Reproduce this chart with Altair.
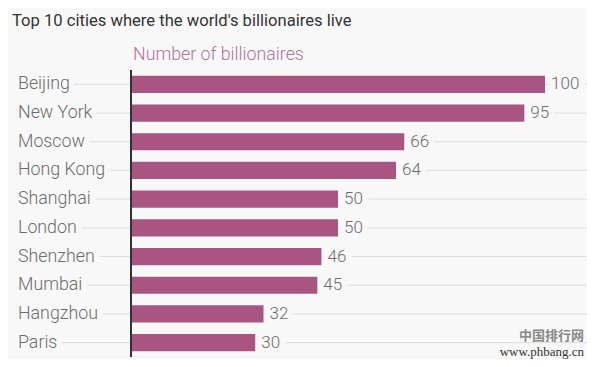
import altair as alt
import pandas as pd

cities = ["Beijing", "New York", "Moscow", "Hong Kong", "Shanghai",
          "London", "Shenzhen", "Mumbai", "Hangzhou", "Paris"]
counts = [100, 95, 66, 64, 50, 50, 46, 45, 32, 30]
title_text = ["Top 10 cities where the world's billionaires live"]
subtitle_text = ["Number of billionaires"]
watermark_cn = ["中国排行网"]
watermark_url = ["www.phbang.cn"]

BG = "#f8f8f8"
BAR = "#a85582"
TXT = "#6c6c6c"
FONT = "Roboto"
FW = 300
FS = 17
FSL = 17.8
W, H = 579, 287

df = pd.DataFrame({"city": cities, "count": counts, "zero": [0] * len(cities)})

XS = alt.Scale(domain=[-29.71, 110.14], nice=False, zero=False)
Y = alt.Y("city:N", sort=cities, axis=None,
          scale=alt.Scale(paddingInner=0.4, paddingOuter=0.2))
X = alt.X("count:Q", axis=None, scale=XS)

base = alt.Chart(df)

grid = base.mark_rule(color="#dddddd", strokeWidth=1).encode(
    y=Y, x=alt.value(10), x2=alt.value(W))

left_halo = base.mark_text(align="left", baseline="middle", font=FONT, fontSize=FSL, fontWeight=FW,
                           stroke=BG, strokeWidth=12, strokeJoin="round", color=BG).encode(
    y=Y, x=alt.value(10), text="city:N")
val_halo = base.mark_text(align="left", baseline="middle", font=FONT, fontSize=FS, fontWeight=FW, dx=6,
                          stroke=BG, strokeWidth=12, strokeJoin="round", color=BG).encode(
    y=Y, x=X, text="count:Q")

bars = base.mark_bar(color=BAR).encode(y=Y, x=X, x2="zero:Q")

zero = base.mark_rule(color="#333333", strokeWidth=1).encode(
    x=alt.X("zero:Q", axis=None, scale=XS), y=alt.value(0), y2=alt.value(H))

left_txt = base.mark_text(align="left", baseline="middle", font=FONT, fontSize=FSL, fontWeight=FW,
                          color=TXT).encode(y=Y, x=alt.value(10), text="city:N")
val_txt = base.mark_text(align="left", baseline="middle", font=FONT, fontSize=FS, fontWeight=FW, dx=6,
                         color=TXT).encode(y=Y, x=X, text="count:Q")

title = alt.Chart(pd.DataFrame({"t": title_text})).mark_text(
    align="left", baseline="alphabetic", font=FONT, fontSize=16.6, color="#333333").encode(
    x=alt.value(4), y=alt.value(-44), text="t:N")
subtitle = alt.Chart(pd.DataFrame({"t": subtitle_text})).mark_text(
    align="left", baseline="alphabetic", font=FONT, fontWeight=FW, fontSize=17.8, color="#b5709a").encode(
    x=alt.value(125), y=alt.value(-10), text="t:N")
wm1 = alt.Chart(pd.DataFrame({"t": watermark_cn})).mark_text(
    align="right", baseline="alphabetic", font="Noto Sans CJK SC", fontWeight="bold",
    fontSize=13, color="#888888").encode(x=alt.value(576), y=alt.value(270), text="t:N")
wm2 = alt.Chart(pd.DataFrame({"t": watermark_url})).mark_text(
    align="right", baseline="alphabetic", font="Liberation Serif",
    fontSize=13, color="#333333").encode(x=alt.value(576), y=alt.value(286), text="t:N")

chart = alt.layer(grid, left_halo, val_halo, bars, zero, left_txt, val_txt,
                  title, subtitle, wm1, wm2).properties(
    width=W, height=H,
    autosize=alt.AutoSizeParams(type="none"),
    padding={"left": 0, "top": 62, "right": 0, "bottom": 2},
    background=BG,
).configure_view(stroke=None)

chart.save("out.html", embed_options={"renderer": "svg", "actions": False})
